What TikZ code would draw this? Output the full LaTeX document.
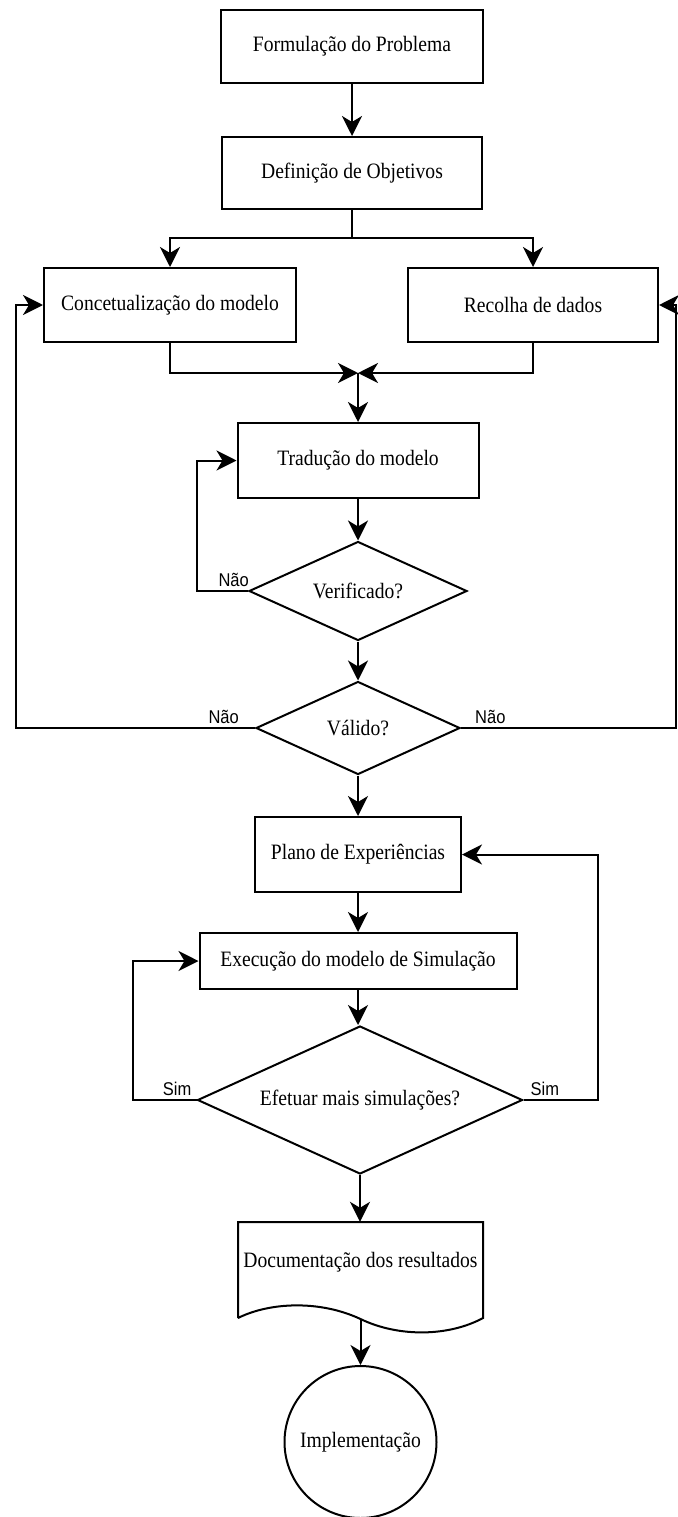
\documentclass[tikz,border=0pt]{standalone}
\usepackage{fontspec}
\setmainfont{Liberation Serif}
\newfontfamily\lblfont{Liberation Sans}
\usetikzlibrary{arrows.meta,shapes.geometric}

% slightly tall lettering
\newcommand{\tallt}[1]{\scalebox{1}[1.12]{#1}}

\tikzset{
  txt/.style={font=\fontsize{19.6}{23}\selectfont},
  base/.style={draw, line width=2pt, inner sep=0pt, align=center, txt},
  box/.style={base, rectangle},
  decision/.style={draw, line width=2pt, diamond, inner sep=0pt},
  terminal/.style={base, circle},
  link/.style={line width=2pt},
  arr/.style={link, -{Stealth[length=20pt,width=20pt,inset=6pt]}},
  lbl/.style={inner sep=0pt, font=\lblfont\fontsize{16.5}{19}\selectfont},
}

\begin{document}
\begin{tikzpicture}[x=1pt, y=-1pt]
\useasboundingbox (0,0) rectangle (677,1517);

% process boxes
\node[box, minimum width=262pt, minimum height=73pt] (form) at (352,46.5) {\tallt{Formulação do Problema}};
\node[box, minimum width=260pt, minimum height=72pt] (def) at (352,173) {\tallt{Definição de Objetivos}};
\node[box, minimum width=252pt, minimum height=74pt] (conc) at (170,305) {\tallt{Concetualização do modelo}};
\node[box, minimum width=250pt, minimum height=74pt] (rec) at (533,305) {\tallt{Recolha de dados}};
\node[box, minimum width=241pt, minimum height=75pt] (trad) at (358,460.5) {\tallt{Tradução do modelo}};

% decisions
\node[decision, minimum width=218pt, minimum height=99pt,
      label={[txt, name=vertxt]center:\tallt{Verificado?}}] (ver) at (358,591) {};
\node[decision, minimum width=204pt, minimum height=93pt,
      label={[txt, name=valtxt]center:\tallt{Válido?}}] (val) at (358,728) {};

\node[box, minimum width=206pt, minimum height=75pt] (plano) at (358,854.5) {\tallt{Plano de Experiências}};
\node[box, minimum width=317pt, minimum height=56pt] (exec) at (358,961) {\tallt{Execução do modelo de Simulação}};
\node[decision, minimum width=325pt, minimum height=148pt,
      label={[txt, name=efettxt]center:\tallt{Efetuar mais simulações?}}] (efet) at (360,1100) {};

% document shape with wavy lower edge
\draw[link, line join=miter] (238,1318) -- (238,1222) -- (483,1222) -- (483,1318)
  .. controls (450,1336) and (400,1338) .. (360.5,1319)
  .. controls (320,1300) and (270,1302) .. (238,1318);
\node[inner sep=0pt, minimum width=245pt, minimum height=96pt] (doc) at (360.5,1270) {};
\node[txt] (doctxt) at (360.5,1262) {\tallt{Documentação dos resultados}};
\coordinate (docbot) at (360.5,1319);

\node[terminal, minimum size=152pt] (impl) at (360.5,1442) {\tallt{Implementação}};

% main flow
\draw[arr] (form.south) -- (def.north);
\coordinate (split) at (352,238);
\draw[link] (def.south) -- (split);
\draw[arr] (split) -| (conc.north);
\draw[arr] (split) -| (rec.north);

\coordinate (merge) at (358,373);
\draw[arr] (conc.south) |- (merge);
\draw[arr] (rec.south) |- (merge);
\draw[arr] (merge) -- (trad.north);

\draw[arr] (trad.south) -- (ver.north);
\draw[arr] (ver.south) -- (val.north);
\draw[arr] (val.south) -- (plano.north);
\draw[arr] (plano.south) -- (exec.north);
\draw[arr] (exec.south) -- (exec.south |- efet.north);
\draw[arr] (efet.south) -- (efet.south |- doc.north);
\draw[arr] (docbot) -- (impl.north);

% feedback loops
\coordinate (verL) at (197,591);
\draw[arr] (ver.west) -- (verL) |- (trad.west);
\node[lbl, anchor=south east] (nao1) at ([shift={(1,-4)}]ver.west) {\tallt{Não}};

\coordinate (valL) at (16,728);
\draw[arr] (val.west) -- (valL) |- (conc.west);
\node[lbl, anchor=south east] (nao2) at ([shift={(-16,-4)}]val.west) {\tallt{Não}};

\coordinate (valR) at (676,728);
\draw[arr] (val.east) -- (valR) |- (rec.east);
\node[lbl, anchor=south west] (nao3) at ([shift={(14,-4)}]val.east) {\tallt{Não}};

\coordinate (efetL) at (133,1100);
\draw[arr] (efet.west) -- (efetL) |- (exec.west);
\node[lbl, anchor=south east] (sim1) at ([shift={(-5,-4)}]efet.west) {\tallt{Sim}};

\coordinate (efetR) at (598,1100);
\draw[arr] (efet.east) -- (efetR) |- (plano.east);
\node[lbl, anchor=south west] (sim2) at ([shift={(7,-4)}]efet.east) {\tallt{Sim}};
\end{tikzpicture}
\end{document}
